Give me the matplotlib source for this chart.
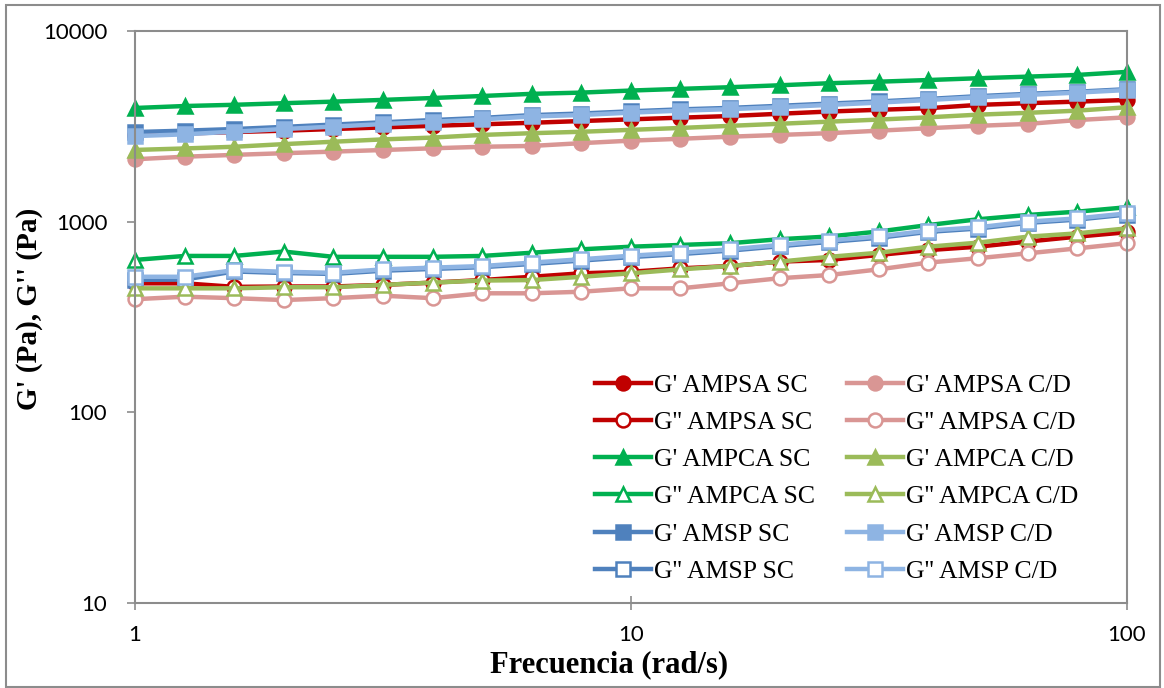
import matplotlib.pyplot as plt
from matplotlib.patches import Rectangle

# Frecuencias (rad/s), 10 puntos por década
freq = [1, 1.259, 1.585, 1.995, 2.512, 3.162, 3.981, 5.012, 6.310, 7.943,
        10, 12.59, 15.85, 19.95, 25.12, 31.62, 39.81, 50.12, 63.10, 79.43, 100]

# Módulo elástico G' (Pa)
gp_ampsa_sc = [2850, 2900, 2950, 3000, 3060, 3120, 3180, 3240, 3300, 3370, 3440,
               3510, 3580, 3680, 3780, 3860, 3935, 4095, 4180, 4260, 4345]
gp_ampsa_cd = [2124, 2190, 2240, 2285, 2330, 2375, 2425, 2470, 2495, 2580, 2660,
               2720, 2790, 2850, 2910, 3000, 3090, 3180, 3255, 3410, 3525]
gp_ampca_sc = [3945, 4040, 4100, 4180, 4260, 4350, 4450, 4560, 4680, 4750, 4870,
               4970, 5070, 5190, 5320, 5420, 5530, 5650, 5760, 5880, 6100]
gp_ampca_cd = [2377, 2420, 2470, 2550, 2625, 2700, 2760, 2850, 2910, 2960, 3030,
               3100, 3180, 3260, 3345, 3430, 3525, 3640, 3720, 3820, 3980]
gp_amsp_sc = [2950, 3000, 3060, 3140, 3230, 3320, 3410, 3500, 3620, 3690, 3790,
              3880, 3950, 4050, 4160, 4270, 4400, 4550, 4680, 4800, 4950]
gp_amsp_cd = [2810, 2870, 2965, 3060, 3150, 3250, 3340, 3440, 3560, 3625, 3730,
              3820, 3890, 3985, 4095, 4210, 4345, 4490, 4620, 4750, 4900]

# Módulo viscoso G'' (Pa)
gpp_ampsa_sc = [475, 475, 455, 457, 457, 466, 479, 494, 514, 536, 546,
                569, 585, 617, 630, 669, 709, 739, 786, 834, 880]
gpp_ampsa_cd = [392, 404, 397, 388, 397, 409, 397, 421, 421, 429, 447,
                447, 475, 505, 525, 562, 610, 643, 682, 724, 771]
gpp_ampca_sc = [630, 661, 661, 697, 654, 654, 654, 661, 687, 716, 739,
                755, 771, 809, 836, 888, 960, 1029, 1084, 1128, 1190]
gpp_ampca_cd = [447, 447, 447, 453, 453, 466, 479, 491, 494, 514, 536,
                562, 585, 617, 654, 687, 739, 776, 834, 868, 922]
gpp_amsp_sc = [495, 497, 548, 538, 532, 553, 565, 577, 600, 625, 652,
               676, 705, 743, 783, 823, 884, 920, 985, 1025, 1090]
gpp_amsp_cd = [514, 514, 557, 546, 539, 562, 574, 585, 610, 635, 663,
               687, 716, 755, 796, 836, 898, 934, 1000, 1040, 1105]

# colores de cada muestra
c_ampsa_sc = '#C00000'
c_ampsa_cd = '#D99694'
c_ampca_sc = '#00B050'
c_ampca_cd = '#9BBB59'
c_amsp_sc = '#4F81BD'
c_amsp_cd = '#8EB4E3'

plt.rcParams['font.family'] = ['Liberation Serif', 'DejaVu Serif']

fig = plt.figure(figsize=(11.64, 6.88), dpi=100)
ax = fig.add_axes([0.116, 0.1235, 0.852, 0.8315])

# marco exterior de la figura
fig.patches.append(Rectangle((0.005, 0.0015), 0.9915, 0.991, transform=fig.transFigure,
                             fill=False, edgecolor='#8c8c8c', linewidth=1.5))

series = [
    (gp_ampsa_sc, c_ampsa_sc, 'o', True, "G' AMPSA SC"),
    (gpp_ampsa_sc, c_ampsa_sc, 'o', False, "G'' AMPSA SC"),
    (gp_ampca_sc, c_ampca_sc, '^', True, "G' AMPCA SC"),
    (gpp_ampca_sc, c_ampca_sc, '^', False, "G'' AMPCA SC"),
    (gp_amsp_sc, c_amsp_sc, 's', True, "G' AMSP SC"),
    (gpp_amsp_sc, c_amsp_sc, 's', False, "G'' AMSP SC"),
    (gp_ampsa_cd, c_ampsa_cd, 'o', True, "G' AMPSA C/D"),
    (gpp_ampsa_cd, c_ampsa_cd, 'o', False, "G'' AMPSA C/D"),
    (gp_ampca_cd, c_ampca_cd, '^', True, "G' AMPCA C/D"),
    (gpp_ampca_cd, c_ampca_cd, '^', False, "G'' AMPCA C/D"),
    (gp_amsp_cd, c_amsp_cd, 's', True, "G' AMSP C/D"),
    (gpp_amsp_cd, c_amsp_cd, 's', False, "G'' AMSP C/D"),
]

for vals, col, mk, lleno, nombre in series:
    ax.plot(freq, vals, color=col, linewidth=3.2, marker=mk, markersize=10,
            markerfacecolor=col if lleno else 'white', markeredgecolor=col,
            markeredgewidth=1.8, label=nombre, clip_on=False)

ax.set_xscale('log')
ax.set_yscale('log')
ax.set_xlim(1, 100)
ax.set_ylim(10, 10000)
ax.set_xticks([1, 10, 100])
ax.set_xticklabels(['1', '10', '100'])
ax.set_yticks([10, 100, 1000, 10000])
ax.set_yticklabels(['10', '100', '1000', '10000'])
ax.minorticks_off()

for s in ax.spines.values():
    s.set_color('#8c8c8c')
    s.set_linewidth(1.5)
ax.tick_params(axis='x', direction='inout', length=10, width=1.2, color='#8c8c8c',
               labelsize=16, pad=11)
ax.tick_params(axis='y', direction='out', length=6, width=1.2, color='#8c8c8c',
               labelsize=16, pad=14)
for lb in ax.get_xticklabels() + ax.get_yticklabels():
    lb.set_family(['Lato', 'DejaVu Sans'])

ax.set_xlabel('Frecuencia (rad/s)', fontsize=22, fontweight='bold')
ax.set_ylabel("G' (Pa), G'' (Pa)", fontsize=21, fontweight='bold')
ax.xaxis.set_label_coords(0.478, -0.083)
ax.yaxis.set_label_coords(-0.093, 0.515)

ax.legend(ncol=2, loc='upper left', bbox_to_anchor=(0.5, 0.475),
          bbox_transform=fig.transFigure, frameon=False, borderpad=0,
          fontsize=18.5, handlelength=2.18, handletextpad=0.12, columnspacing=1.25,
          labelspacing=0.55)

fig.savefig('out.png', dpi=100)
